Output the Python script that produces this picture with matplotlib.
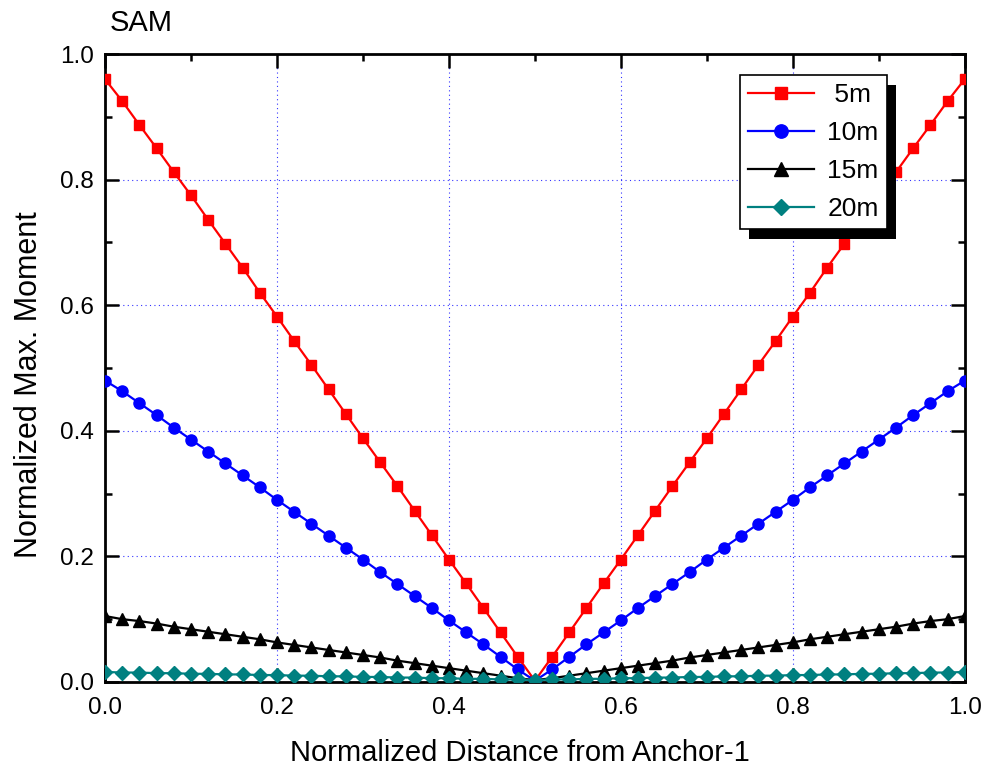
import matplotlib.pyplot as plt
from matplotlib.ticker import MultipleLocator
from matplotlib.patches import Rectangle

plt.rcParams['font.family'] = ['Liberation Sans', 'DejaVu Sans']

# x positions: normalized distance from anchor-1 (0 .. 1, step 0.02)
x = [i / 50 for i in range(51)]

# (left half, then right half mirrors)
m5_left = [0.960, 0.925, 0.887, 0.850, 0.812, 0.775, 0.736, 0.698, 0.660, 0.620,
           0.582, 0.543, 0.505, 0.466, 0.427, 0.388, 0.350, 0.312, 0.273, 0.234,
           0.195, 0.157, 0.118, 0.079, 0.040, 0.002]
m10_left = [0.480, 0.463, 0.444, 0.425, 0.405, 0.386, 0.367, 0.348, 0.329, 0.310,
            0.290, 0.271, 0.252, 0.233, 0.214, 0.195, 0.175, 0.156, 0.137, 0.118,
            0.098, 0.079, 0.060, 0.040, 0.020, 0.002]
m15_left = [0.105, 0.100, 0.097, 0.093, 0.088, 0.084, 0.080, 0.076, 0.072, 0.068,
            0.063, 0.059, 0.055, 0.051, 0.047, 0.043, 0.039, 0.034, 0.030, 0.026,
            0.022, 0.018, 0.014, 0.010, 0.006, 0.003]
m20_left = [0.016, 0.015, 0.015, 0.014, 0.014, 0.013, 0.013, 0.012, 0.012, 0.011,
            0.011, 0.010, 0.010, 0.009, 0.009, 0.008, 0.008, 0.007, 0.007, 0.006,
            0.006, 0.005, 0.005, 0.004, 0.004, 0.003]

m5 = m5_left + m5_left[-2::-1]
m10 = m10_left + m10_left[-2::-1]
m15 = m15_left + m15_left[-2::-1]
m20 = m20_left + m20_left[-2::-1]

series = [
    (m5, " 5m", "#ff0000", "s", 7.5),
    (m10, "10m", "#0000ff", "o", 8),
    (m15, "15m", "#000000", "^", 8.5),
    (m20, "20m", "#008080", "D", 7),
]

fig = plt.figure(figsize=(9.86, 7.74), dpi=100)
ax = fig.add_axes([0.1065, 0.1189, 0.872, 0.8113])

for y, lab, c, mk, ms in series:
    ax.plot(x, y, color=c, marker=mk, markersize=ms, linewidth=1.6,
            label=lab, zorder=3)

ax.set_xlim(0, 1)
ax.set_ylim(0, 1)
ax.xaxis.set_major_locator(MultipleLocator(0.2))
ax.xaxis.set_minor_locator(MultipleLocator(0.1))
ax.yaxis.set_major_locator(MultipleLocator(0.2))
ax.yaxis.set_minor_locator(MultipleLocator(0.1))
ax.tick_params(which='both', direction='in', top=True, right=True,
               width=1.8, labelsize=17.5)
ax.tick_params(axis='x', pad=11)
ax.tick_params(axis='y', pad=8)
ax.tick_params(which='major', length=10)
ax.tick_params(which='minor', length=5)
for s in ax.spines.values():
    s.set_linewidth(2)
ax.grid(True, which='major', color='#0000ff', linestyle=(0, (1, 3)),
        linewidth=0.8, alpha=0.8)

ax.set_xlabel("Normalized Distance from Anchor-1", fontsize=21)
ax.set_ylabel("Normalized Max. Moment", fontsize=22)
ax.xaxis.set_label_coords(0.4826, -0.0916)
ax.yaxis.set_label_coords(-0.071, 0.473)
fig.text(0.111, 0.952, "SAM", fontsize=21, ha='left', va='bottom')

leg = ax.legend(loc='upper right', bbox_to_anchor=(0.909, 0.966),
                fontsize=19, fancybox=False, framealpha=1, edgecolor='black',
                borderpad=0.3, borderaxespad=0, markerscale=1.2,
                handlelength=2.5, labelspacing=0.53, handletextpad=0.5)
leg.get_frame().set_linewidth(1.2)
leg.set_zorder(6)

# offset black shadow behind the legend box
fig.canvas.draw()
bb = leg.get_frame().get_window_extent().transformed(ax.transAxes.inverted())
dx = 9 / (ax.bbox.width)
dy = 10 / (ax.bbox.height)
ax.add_patch(Rectangle((bb.x0 + dx, bb.y0 - dy), bb.width, bb.height,
                       transform=ax.transAxes, facecolor='black',
                       edgecolor='none', zorder=5.5, clip_on=False))

fig.savefig("out.png", dpi=100)
